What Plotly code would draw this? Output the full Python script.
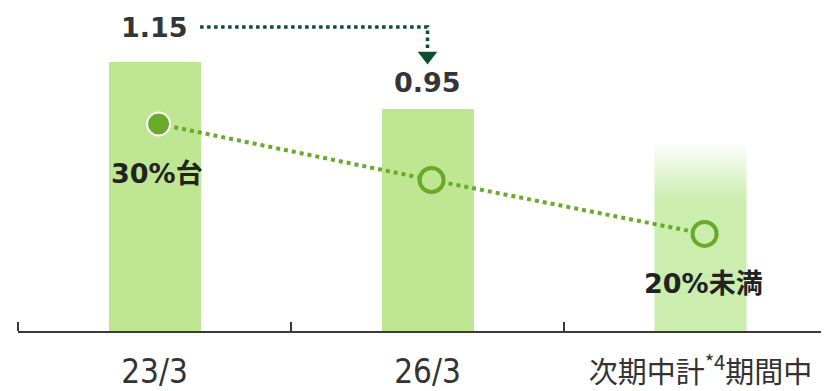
import plotly.graph_objects as go

categories = ["23/3", "26/3", "次期中計*4期間中"]
tick_labels = ["23/3", "26/3",
               "<span style=\"font-family:'Noto Sans CJK JP';font-size:29px\">次期中計<sup>*4</sup>期間中</span>"]
bar_values = [1.15, 0.95, 0.80]
bar_labels = ["1.15", "0.95"]
line_values = [35.0, 27.0, 19.3]
line_labels = ["30%台", "", "20%未満"]

BAR = "#bfe692"
BAR3 = "#cbedae"
GREEN = "#6aaa2a"
DARK = "#0a4f30"
W = 0.337
MARK_SHIFT = 0.015  # markers sit slightly right of bar centres

xpos = list(range(len(categories)))

fig = go.Figure()

# solid bars
fig.add_trace(go.Bar(x=xpos[:2], y=bar_values[:2], width=W, marker=dict(color=BAR, line=dict(width=0)),
                     hoverinfo="skip", showlegend=False))

# gradient bar (plan)
x3 = xpos[2]
v3 = bar_values[2]
fig.add_trace(go.Scatter(x=[x3 - W / 2, x3 + W / 2, x3 + W / 2, x3 - W / 2],
                         y=[0, 0, v3, v3], fill="toself", mode="lines",
                         line=dict(width=0, color="rgba(0,0,0,0)"),
                         fillgradient=dict(type="vertical",
                                           colorscale=[[0, BAR3], [0.70, BAR3], [1, "rgba(203,237,174,0.04)"]]),
                         hoverinfo="skip", showlegend=False))

# dotted trend line with circles
fig.add_trace(go.Scatter(x=[p + MARK_SHIFT for p in xpos], y=line_values, yaxis="y2", mode="lines+markers",
                         line=dict(color=GREEN, width=4, dash="dot"),
                         marker=dict(symbol="circle", size=[23, 24, 24], opacity=1,
                                     color=[GREEN, BAR, BAR3],
                                     line=dict(color=["white", GREEN, GREEN], width=[2, 4, 4])),
                         hoverinfo="skip", showlegend=False))

# arrow from 1.15 to 0.95
top = bar_values[0] + 0.15
fig.add_trace(go.Scatter(x=[xpos[0] + 0.167, xpos[1], xpos[1]], y=[top, top, top - 0.105], mode="lines",
                         line=dict(color=DARK, width=3.5, dash="dot"),
                         hoverinfo="skip", showlegend=False))
fig.add_trace(go.Scatter(x=[xpos[1]], y=[top - 0.124], mode="markers",
                         marker=dict(symbol="triangle-down", size=17, color=DARK, line=dict(width=0)),
                         hoverinfo="skip", showlegend=False))

annotations = []
bold_font = dict(family="DejaVu Sans, 'Noto Sans CJK JP'", size=27, color="#353535", weight="bold")
annotations.append(dict(x=xpos[0], y=bar_values[0] + 0.148, xref="x", yref="y", text=bar_labels[0],
                        showarrow=False, font=bold_font, yanchor="middle"))
annotations.append(dict(x=xpos[1], y=bar_values[1] + 0.112, xref="x", yref="y", text=bar_labels[1],
                        showarrow=False, font=bold_font, yanchor="middle"))
pct_font = dict(family="DejaVu Sans, 'Noto Sans CJK JP'", size=27, color="#222222", weight="bold")
annotations.append(dict(x=xpos[0] + 0.01, y=line_values[0] - 7.14, xref="x", yref="y2", text=line_labels[0],
                        showarrow=False, font=pct_font, yanchor="middle"))
annotations.append(dict(x=xpos[2] + 0.01, y=line_values[2] - 7.14, xref="x", yref="y2", text=line_labels[2],
                        showarrow=False, font=pct_font, yanchor="middle"))

fig.update_layout(
    width=821, height=383,
    margin=dict(l=10, r=0, t=0, b=60, autoexpand=False),
    paper_bgcolor="white", plot_bgcolor="white",
    bargap=0,
    annotations=annotations,
    xaxis=dict(type="linear", range=[-0.5, 2.4707], tickmode="array", tickvals=xpos,
               ticktext=tick_labels, ticks="", showgrid=False, zeroline=False, automargin=False,
               showline=True, linecolor="#3a3a3a", linewidth=2,
               tickfont=dict(family="DejaVu Sans Condensed, 'Noto Sans CJK JP'", size=33, color="#333333"),
               ticklabelstandoff=10,
               minor=dict(tickmode="array", tickvals=[p - 0.5 for p in xpos], ticks="inside", ticklen=9,
                          tickwidth=2, tickcolor="#3a3a3a", showgrid=False)),
    yaxis=dict(range=[0, 1.381], visible=False, showgrid=False, zeroline=False),
    yaxis2=dict(range=[5.43, 51.57], overlaying="y", visible=False,
                showgrid=False, zeroline=False),
)

fig.write_html("out.html")
